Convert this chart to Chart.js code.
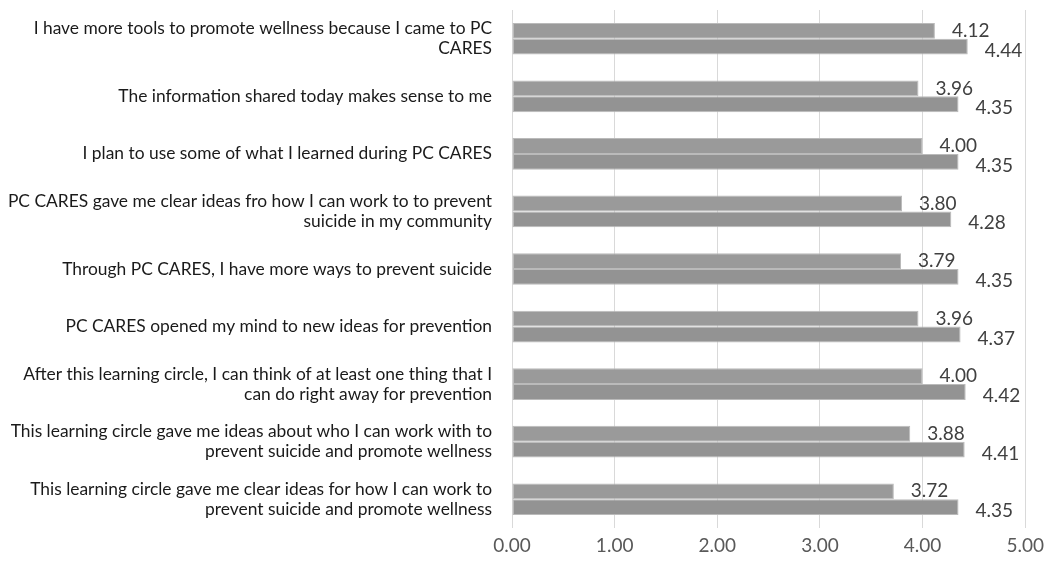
<!DOCTYPE html>
<html>
<head>
<meta charset="utf-8">
<script src="https://cdn.jsdelivr.net/npm/chart.js@4/dist/chart.umd.min.js"></script>
<style>
  html, body { margin: 0; padding: 0; background: #ffffff; }
  #wrap { width: 1050px; height: 570px; position: relative; }
</style>
</head>
<body>
<div id="wrap"><canvas id="c" width="1050" height="570"></canvas></div>
<script>
const categories = [
  ["I have more tools to promote wellness because I came to PC", "CARES"],
  "The information shared today makes sense to me",
  "I plan to use some of what I learned during PC CARES",
  ["PC CARES gave me clear ideas fro how I can work to to prevent", "suicide in my community"],
  "Through PC CARES, I have more ways to prevent suicide",
  "PC CARES opened my mind to new ideas for prevention",
  ["After this learning circle, I can think of at least one thing that I", "can do right away for prevention"],
  ["This learning circle gave me ideas about who I can work with to", "prevent suicide and promote wellness"],
  ["This learning circle gave me clear ideas for how I can work to", "prevent suicide and promote wellness"]
];
const seriesA = [4.12, 3.96, 4.00, 3.80, 3.79, 3.96, 4.00, 3.88, 3.72];
const seriesB = [4.44, 4.35, 4.35, 4.28, 4.35, 4.37, 4.42, 4.41, 4.35];
const xTicks = [0, 1, 2, 3, 4, 5];

const valueLabels = {
  id: 'valueLabels',
  afterDatasetsDraw(chart) {
    const ctx = chart.ctx;
    ctx.save();
    ctx.font = '19px Lato, "Open Sans", sans-serif';
    ctx.fillStyle = '#404040';
    ctx.textAlign = 'left';
    ctx.textBaseline = 'middle';
    chart.data.datasets.forEach((ds, di) => {
      const meta = chart.getDatasetMeta(di);
      meta.data.forEach((el, i) => {
        const dy = di === 0 ? 0 : 4;
        ctx.fillText(Number(ds.data[i]).toFixed(2), el.x + 17, el.y + dy);
      });
    });
    ctx.restore();
  }
};

new Chart(document.getElementById('c'), {
  type: 'bar',
  data: {
    labels: categories,
    datasets: [
      { label: 'A', data: seriesA, backgroundColor: '#9a9a9a', borderColor: '#bababa', borderWidth: 1, borderSkipped: false },
      { label: 'B', data: seriesB, backgroundColor: '#939393', borderColor: '#bababa', borderWidth: 1, borderSkipped: false }
    ]
  },
  options: {
    indexAxis: 'y',
    responsive: false,
    animation: false,
    devicePixelRatio: 1,
    layout: { padding: { top: 10, right: 24, bottom: 0, left: 0 } },
    datasets: { bar: { barPercentage: 1.0, categoryPercentage: 0.55 } },
    plugins: { legend: { display: false }, tooltip: { enabled: false } },
    scales: {
      x: {
        min: 0, max: 5,
        afterBuildTicks(scale) { scale.ticks = xTicks.map(v => ({ value: v })); },
        afterFit(scale) { scale.height = 42; },
        grid: { color: '#d9d9d9', lineWidth: 1, drawTicks: false },
        border: { display: false },
        ticks: {
          padding: 6,
          color: '#595959',
          font: { family: 'Lato, "Open Sans", sans-serif', size: 19 },
          callback: v => Number(v).toFixed(2)
        }
      },
      y: {
        afterFit(scale) {
          scale.width = 512;
          scale.paddingTop = 0;
          scale.paddingBottom = 0;
        },
        grid: { display: false, drawTicks: false },
        border: { display: false },
        ticks: {
          padding: 20,
          color: '#1a1a1a',
          font: { family: 'Lato, "Open Sans", sans-serif', size: 17.4, lineHeight: 1.15 }
        }
      }
    }
  },
  plugins: [valueLabels]
});
</script>
</body>
</html>
